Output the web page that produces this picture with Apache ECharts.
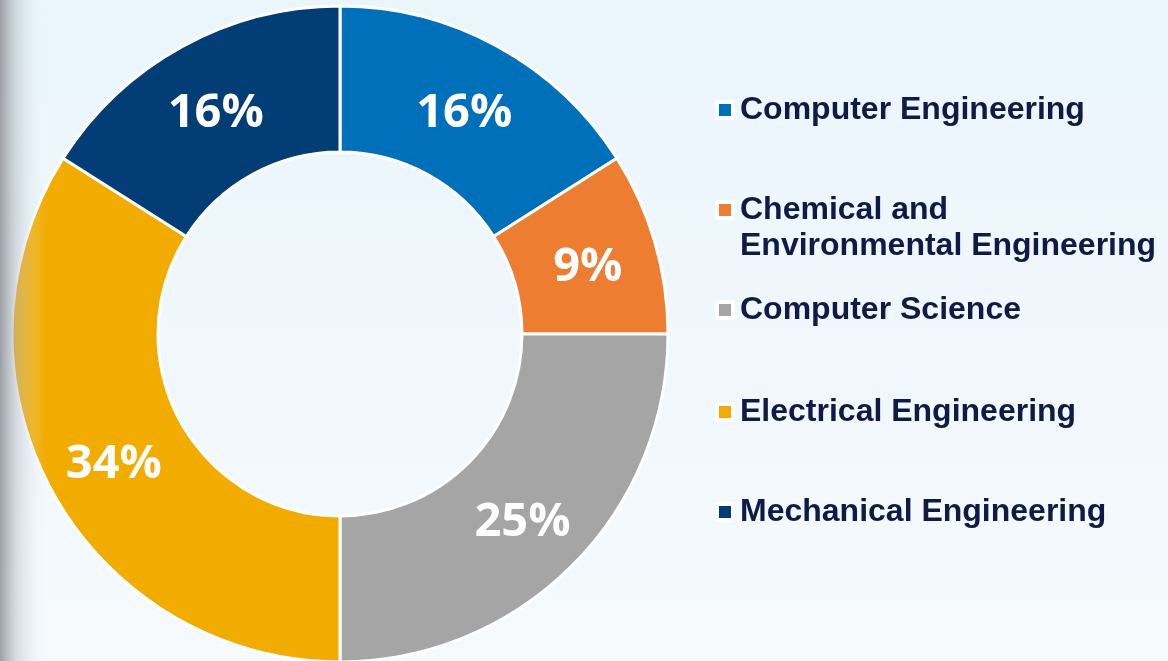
<!DOCTYPE html>
<html>
<head>
<meta charset="utf-8">
<script src="https://cdn.jsdelivr.net/npm/echarts@6/dist/echarts.min.js"></script>
<style>
  html, body { margin: 0; padding: 0; }
  #chart { width: 1168px; height: 661px; }
</style>
</head>
<body>
<div id="chart"></div>
<script>
var departments = ['Computer Engineering', 'Chemical and Environmental Engineering', 'Computer Science', 'Electrical Engineering', 'Mechanical Engineering'];
var shares = [16, 9, 25, 34, 16];
var sliceColors = ['#0070BA', '#ED7D31', '#A5A5A5', '#F2AC00', '#033D76'];
// an empty first line keeps the icon level with the first text line
var legendLines = ['Computer Engineering', '\nChemical and\nEnvironmental Engineering', 'Computer Science', 'Electrical Engineering', 'Mechanical Engineering'];

// icon centres of the legend entries (layout only)
var legendCenters = [110, 210, 310, 412, 512];
var lineH = 36;

var chart = echarts.init(document.getElementById('chart'));

var pieData = departments.map(function (name, i) {
    return { name: name, value: shares[i], itemStyle: { color: sliceColors[i] } };
});

var legends = departments.map(function (name, i) {
    var nLines = legendLines[i].split('\n').length;
    var boxH = lineH * nLines;
    return {
        orient: 'vertical',
        left: 715,
        top: legendCenters[i] - boxH / 2,
        padding: 0,
        icon: 'rect',
        itemWidth: 16,
        itemHeight: 16,
        itemStyle: { borderColor: '#ffffff', borderWidth: 4 },
        selectedMode: false,
        data: [name],
        formatter: function () { return legendLines[i]; },
        textStyle: {
            fontFamily: '"Liberation Sans", Arial, sans-serif',
            fontWeight: 'bold',
            fontSize: 32,
            lineHeight: lineH,
            color: '#0F1A45',
            padding: [0, 0, 0, 2]
        }
    };
});

var option = {
    backgroundColor: new echarts.graphic.LinearGradient(0, 0, 0, 1, [
        { offset: 0, color: '#EAF5FC' },
        { offset: 1, color: '#F6FAFD' }
    ]),
    animation: false,
    legend: legends,
    graphic: [{
        type: 'rect',
        left: 0,
        top: 0,
        z: 100,
        silent: true,
        shape: { width: 46, height: 661 },
        style: {
            fill: new echarts.graphic.LinearGradient(0, 0, 1, 0, [
                { offset: 0, color: 'rgba(140,145,150,0.85)' },
                { offset: 0.35, color: 'rgba(175,182,190,0.45)' },
                { offset: 1, color: 'rgba(234,245,252,0)' }
            ])
        }
    }],
    series: [{
        type: 'pie',
        center: [340, 334],
        radius: [182, 328],
        startAngle: 90,
        clockwise: true,
        avoidLabelOverlap: false,
        itemStyle: { borderColor: '#ffffff', borderWidth: 3 },
        label: {
            show: true,
            position: 'inside',
            formatter: '{c}%',
            color: '#ffffff',
            fontFamily: '"Open Sans", sans-serif',
            fontWeight: 'bold',
            fontSize: 47,
            offset: [0, 6]
        },
        labelLine: { show: false },
        emphasis: { disabled: true },
        data: pieData
    }]
};

chart.setOption(option);
</script>
</body>
</html>
